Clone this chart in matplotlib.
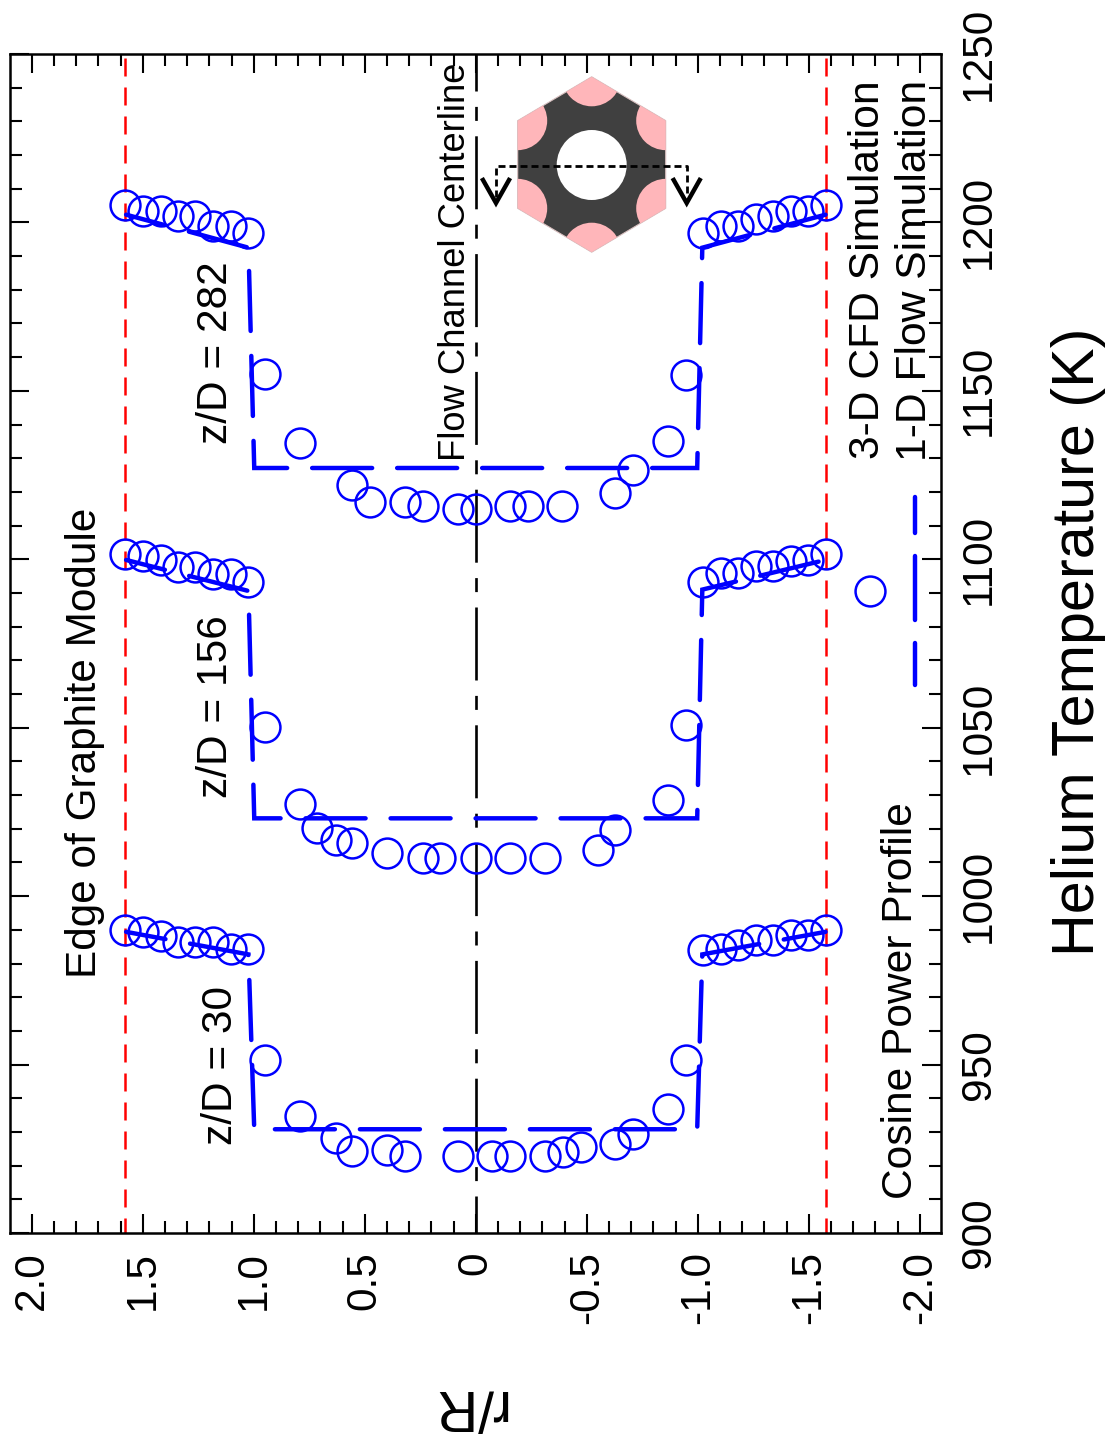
import matplotlib
matplotlib.use("Agg")
import matplotlib.pyplot as plt
import numpy as np
from matplotlib.patches import Polygon, Circle
from matplotlib.ticker import MultipleLocator, FixedLocator, FixedFormatter

plt.rcParams['font.family'] = ['Liberation Sans', 'DejaVu Sans']
plt.rcParams['lines.scale_dashes'] = False

W, H = 1110, 1441
L, R_, T_, B = 10, 941, 54, 1233

# CFD radial locations r/R and temperatures
r_30 = [1.581,1.501,1.42,1.34,1.263,1.184,1.104,1.026,0.948,0.792,0.632,0.556,0.398,0.317,0.08,
        -0.075,-0.156,-0.311,-0.393,-0.472,-0.627,-0.709,-0.865,-0.945,-1.021,-1.102,-1.182,-1.26,-1.339,-1.418,-1.494,-1.577]
T_30 = [989.9,989.4,988.2,986.4,986.4,986.4,984.4,984.2,951.3,934.7,928.3,924.3,924.5,922.95,922.95,
        922.95,922.95,922.95,924.0,925.5,926.3,929.5,936.9,951.5,983.95,984.45,985.6,987.1,987.1,988.6,988.6,989.9]

r_156 = [1.581,1.501,1.42,1.34,1.263,1.184,1.104,1.026,0.948,0.792,0.714,0.632,0.556,0.398,0.24,0.16,0.0,
         -0.156,-0.311,-0.549,-0.627,-0.865,-0.945,-1.021,-1.102,-1.182,-1.26,-1.339,-1.418,-1.494,-1.577]
T_156 = [1101.5,1101.0,1099.8,1097.6,1097.8,1095.7,1095.7,1093.4,1050.3,1027.5,1020.1,1016.6,1015.9,1012.9,1011.2,1011.2,1011.2,
         1011.2,1011.2,1013.7,1019.6,1028.5,1050.8,1093.4,1095.9,1095.9,1098.0,1098.0,1099.6,1099.8,1101.5]

r_282 = [1.581,1.501,1.42,1.34,1.263,1.184,1.104,1.026,0.948,0.792,0.556,0.478,0.32,0.24,0.08,0.0,
         -0.156,-0.235,-0.39,-0.627,-0.709,-0.865,-0.945,-1.021,-1.102,-1.182,-1.26,-1.339,-1.418,-1.494,-1.577]
T_282 = [1205.3,1203.5,1203.5,1201.8,1201.8,1198.8,1198.8,1196.9,1155.0,1134.5,1122.1,1116.9,1116.9,1115.7,1115.0,1115.0,
         1115.8,1115.8,1115.8,1119.8,1126.4,1135.2,1154.8,1196.9,1199.0,1199.0,1201.0,1201.8,1203.5,1203.5,1205.3]

# 1-D flow simulation profiles
line_r = [1.575, 1.024, 0.998, -0.997, -1.02, -1.575]
line_T_30 = [989.4, 982.7, 930.8, 930.8, 982.7, 989.4]
line_T_156 = [1099.8, 1090.6, 1023.1, 1023.1, 1091.0, 1099.8]
line_T_282 = [1202.3, 1192.5, 1127.1, 1127.1, 1192.5, 1202.3]

edge_r = [1.58, -1.575]
center_r = 0.0
xtick_vals = [2.0, 1.5, 1.0, 0.5, 0.0, -0.5, -1.0, -1.5, -2.0]
xtick_labels = ['2.0', '1.5', '1.0', '0.5', '0', '-0.5', '-1.0', '-1.5', '-2.0']
ytick_vals = [900, 950, 1000, 1050, 1100, 1150, 1200, 1250]
ytick_labels = ['900', '950', '1000', '1050', '1100', '1150', '1200', '1250']

fig = plt.figure(figsize=(W/100, H/100), dpi=100)
ax = fig.add_axes([L/W, 1-B/H, (R_-L)/W, (B-T_)/H])
ax.set_xlim(2.098, -2.095)
ax.set_ylim(900, 1250)

def P(px, py):
    """pixel position to data position, for annotation placement"""
    inv = ax.transData.inverted()
    return inv.transform((px, H-py))

pt = 0.72
BLUE = '#0000ff'

ax.plot([center_r, center_r], [900, 1250], color='black', lw=1.9,
        linestyle=(36*pt, (73*pt, 15.4*pt, 14*pt, 15.4*pt)), zorder=2)
for xr in edge_r:
    ax.plot([xr, xr], [900, 1250], color='#ff0000', lw=1.8,
            linestyle=(3*pt, (18*pt, 11*pt)), zorder=2)

ls_line = (20*pt, (60*pt, 25*pt))
for tv in (line_T_30, line_T_156, line_T_282):
    ax.plot(line_r, tv, color=BLUE, lw=3.2, linestyle=ls_line,
            dash_capstyle='round', dash_joinstyle='miter', zorder=3)
for rr, tt in ((r_30, T_30), (r_156, T_156), (r_282, T_282)):
    ax.plot(rr, tt, 'o', mfc='none', mec=BLUE, ms=21.5, mew=1.8, zorder=4)

# legend entries
ax.plot([-1.98, -1.98], [1062.7, 1118.6], color=BLUE, lw=3.2,
        linestyle=(0, (42*pt, 23*pt, 64*pt, 23*pt)), dash_capstyle='round', zorder=3)
ax.plot([-1.775], [1090.6], 'o', mfc='none', mec=BLUE, ms=21.5, mew=1.8, zorder=4)

# ticks
ax.xaxis.set_major_locator(FixedLocator(xtick_vals))
ax.xaxis.set_major_formatter(FixedFormatter(xtick_labels))
ax.xaxis.set_minor_locator(MultipleLocator(0.1))
ax.yaxis.set_major_locator(FixedLocator(ytick_vals))
ax.yaxis.set_major_formatter(FixedFormatter(ytick_labels))
ax.yaxis.set_minor_locator(MultipleLocator(10))
ax.yaxis.tick_right()
ax.tick_params(which='major', direction='in', length=19*pt, width=1.5, top=True, bottom=True, left=True, right=True, pad=13)
ax.tick_params(which='minor', direction='in', length=12*pt, width=1.5, top=True, bottom=True, left=True, right=True)
ax.tick_params(axis='both', which='major', labelsize=30.5)
for t in ax.get_xticklabels():
    t.set_rotation(90); t.set_va('top'); t.set_ha('center')
for t in ax.get_yticklabels():
    t.set_rotation(90); t.set_va('center'); t.set_ha('left')
for s in ax.spines.values():
    s.set_linewidth(1.8)

ax.set_xlabel('r/R', fontsize=41, rotation=180)
ax.xaxis.set_label_coords((467-L)/(R_-L), -(1406-B)/(B-T_))
ax.xaxis.label.set_va('center'); ax.xaxis.label.set_ha('center')
ax.yaxis.set_label_position('right')
ax.set_ylabel('Helium Temperature (K)', fontsize=42.7, rotation=90)
ax.yaxis.set_label_coords((1079-L)/(R_-L), (B-642)/(B-T_))
ax.yaxis.label.set_va('center'); ax.yaxis.label.set_ha('center')

notes = [
    ('Edge of Graphite Module', 85, 743, 30.4),
    ('z/D = 30', 221, 1066, 30.5),
    ('z/D = 156', 216, 707, 30.5),
    ('z/D = 282', 216, 353, 30.5),
    ('Flow Channel Centerline', 456, 262, 26.2),
    ('Cosine Power Profile', 901, 1001, 30.6),
    ('3-D CFD Simulation', 868, 270, 30.7),
    ('1-D Flow Simulation', 915, 270, 30.7),
]
for s, px, py, fs in notes:
    x, y = P(px, py)
    ax.text(x, y, s, rotation=90, fontsize=fs, ha='center', va='center', zorder=5,
            rotation_mode='default')

# inset schematic, in pixel units of the figure
ix0, ix1, iy0, iy1 = 480, 705, 60, 270
ins = fig.add_axes([ix0/W, 1-iy1/H, (ix1-ix0)/W, (iy1-iy0)/H])
ins.set_xlim(ix0, ix1); ins.set_ylim(iy1, iy0); ins.axis('off')
cx, cy, hw, hh = 591.7, 164.5, 74, 87.7
verts = [(cx, cy-hh), (cx+hw, cy-hh/2), (cx+hw, cy+hh/2), (cx, cy+hh), (cx-hw, cy+hh/2), (cx-hw, cy-hh/2)]
hexa = Polygon(verts, closed=True, fc='#404040', ec='#d8c0c0', lw=0.8, zorder=1)
ins.add_patch(hexa)
for v in verts:
    c = Circle(v, 29.5, fc='#ffb6ba', ec='none', zorder=2)
    ins.add_patch(c)
    c.set_clip_path(hexa)
ins.add_patch(Circle((cx, 165), 35, fc='white', ec='none', zorder=3))
ins.plot([496, 496, 686.7, 686.7], [197, 166, 166, 197], color='black', lw=2.0,
         linestyle=(0, (7*pt, 4*pt)), zorder=4)
for ax_x in (496, 686.7):
    ins.plot([ax_x-13, ax_x, ax_x+13], [180, 203, 180], color='black', lw=3.2,
             solid_joinstyle='miter', zorder=4)

fig.savefig('out.png', dpi=100, facecolor='white')
